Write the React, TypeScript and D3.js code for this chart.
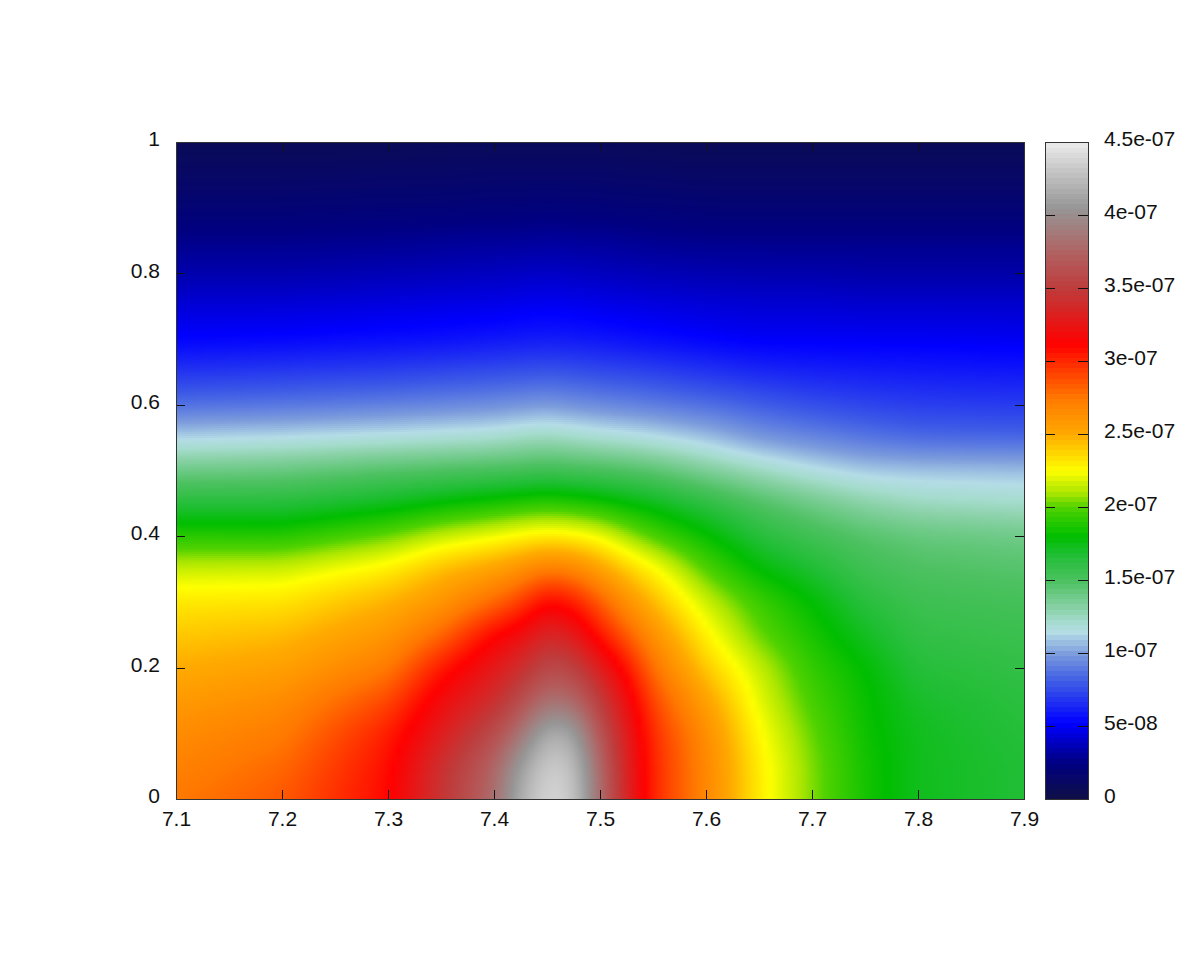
import React, { useEffect, useRef } from "react";
import * as d3 from "d3";

const xGrid = [7.1, 7.2, 7.3, 7.35, 7.4, 7.425, 7.45, 7.475, 7.5, 7.525, 7.55, 7.6, 7.65, 7.7, 7.75, 7.8, 7.9];
const yGrid = [0, 0.05, 0.1, 0.15, 0.2, 0.25, 0.3, 0.35, 0.4, 0.45, 0.5, 0.55, 0.6, 0.65, 0.7, 0.75, 0.8, 0.85, 0.9, 0.95, 1];
// Values in units of 1e-8, one row per x in xGrid, bottom (y=0) to top (y=1)
const valuesByColumn = [
  [27.5, 27, 26.5, 25.8, 25, 24.1, 23.2, 21.6, 19, 16.5, 14, 11.2, 8.6, 6.8, 5.2, 4.4, 3.4, 2.7, 1.9, 1.3, 0.7],
  [28.5, 28, 27.3, 26.5, 25.5, 24.5, 23.3, 21.7, 18.9, 16.5, 14.2, 11.4, 8.8, 7, 5.3, 4.4, 3.4, 2.7, 1.9, 1.3, 0.7],
  [31, 30.8, 30.3, 29, 27.3, 26, 24.8, 23, 20.3, 17.3, 14.8, 11.7, 9.1, 7.2, 5.5, 4.6, 3.6, 2.8, 2, 1.4, 0.7],
  [34.5, 34.2, 33, 32, 30.5, 28, 26, 24.5, 21.5, 18, 15, 11.9, 9.3, 7.4, 5.6, 4.7, 3.7, 2.9, 2, 1.4, 0.8],
  [38, 37.5, 36, 34, 32.8, 31.2, 28, 25.5, 22.3, 18.6, 15.2, 12.1, 9.5, 7.6, 5.8, 4.8, 3.8, 3, 2.1, 1.5, 0.8],
  [42, 41, 38.5, 36, 34, 32, 29.3, 26.3, 22.8, 18.9, 15.3, 12.4, 9.7, 7.7, 5.9, 4.9, 3.9, 3, 2.1, 1.5, 0.8],
  [44, 43.5, 42, 38.5, 36, 33.8, 31.3, 27.5, 23.1, 19.2, 15.5, 12.6, 9.9, 7.8, 6, 5, 4, 3.1, 2.2, 1.5, 0.8],
  [43.5, 43, 41.5, 38, 35.5, 33, 30.5, 27, 22.9, 18.9, 15.3, 12.3, 9.6, 7.7, 5.9, 4.9, 3.9, 3, 2.1, 1.5, 0.8],
  [38, 37.8, 36.5, 35, 33, 30.5, 28.5, 25.5, 22.3, 18.5, 15.2, 12, 9.4, 7.5, 5.8, 4.8, 3.8, 3, 2.1, 1.5, 0.8],
  [33.5, 33.3, 33, 32.2, 30.8, 28.5, 26.3, 24, 21, 18, 14.9, 11.8, 9.2, 7.4, 5.6, 4.7, 3.7, 2.9, 2, 1.4, 0.8],
  [30, 30, 29.8, 29, 27.7, 26.3, 24.5, 22.8, 19.8, 17.5, 14.6, 11.5, 9, 7.2, 5.5, 4.6, 3.6, 2.8, 2, 1.4, 0.7],
  [26.8, 26.8, 26.5, 25.5, 24, 22.8, 21.6, 19.9, 18.2, 16.3, 13.5, 10.8, 8.6, 6.8, 5.2, 4.4, 3.5, 2.7, 1.9, 1.3, 0.7],
  [23, 23, 22.6, 22, 21.5, 20.2, 19.5, 17.9, 16.5, 15, 12.5, 9.8, 8.1, 6.4, 5, 4.3, 3.4, 2.7, 1.9, 1.3, 0.7],
  [20.5, 20.5, 20.2, 19.7, 19.2, 18.6, 18, 16.8, 15.5, 14, 11.6, 9.3, 7.6, 6.2, 5, 4.3, 3.4, 2.7, 1.9, 1.3, 0.7],
  [18.5, 18.5, 18.3, 18.2, 18, 17.2, 16.4, 15.5, 14.8, 13.1, 11, 8.8, 7.3, 6.1, 5, 4.2, 3.3, 2.7, 1.9, 1.3, 0.7],
  [17.3, 17.3, 17.3, 17, 16.5, 16, 15.6, 15, 14.3, 12.5, 10.9, 8.4, 7.1, 6, 5, 4.2, 3.3, 2.7, 1.9, 1.3, 0.7],
  [16.7, 16.7, 16.5, 16.3, 16, 15.7, 15.3, 14.7, 14, 12.2, 10.8, 8.3, 7, 5.9, 4.9, 4.2, 3.3, 2.7, 1.9, 1.3, 0.7],
];

const paletteStops = [0, 2.5, 5.2, 8, 10, 11.4, 12.2, 13, 15, 16.8, 18, 20, 21, 22.5, 25, 27.5, 31.2, 35, 37, 40.5, 45];
const paletteColors = [
  "#0f0f46", "#000082", "#0000ff", "#3c5ae6", "#7c9cdc", "#b4dce6", "#a5dccd", "#8cd2aa", "#4cc160", "#1ebe32", "#00be00", "#50d200",
  "#aae600", "#ffff00", "#ffaa00", "#ff7800", "#ff0000", "#be3c3c", "#b45a5a", "#969696", "#ebebeb",
];
const xTicks = [7.1, 7.2, 7.3, 7.4, 7.5, 7.6, 7.7, 7.8, 7.9];
const yTicks = [0, 0.2, 0.4, 0.6, 0.8, 1];
const cbTicks = [0, 5, 10, 15, 20, 25, 30, 35, 40, 45];
const cbLabels = ["0", "5e-08", "1e-07", "1.5e-07", "2e-07", "2.5e-07", "3e-07", "3.5e-07", "4e-07", "4.5e-07"];

const FONT = "'Liberation Sans', Arial, sans-serif";

export default function App() {
  const ref = useRef<SVGSVGElement>(null);
  useEffect(() => {
    const svg = d3.select(ref.current);
    svg.selectAll("*").remove();
    const left = 176, right = 1024, top = 142, bottom = 799;
    const cbLeft = 1045, cbRight = 1088;
    const x = d3.scaleLinear().domain([7.1, 7.9]).range([left, right]);
    const y = d3.scaleLinear().domain([0, 1]).range([bottom, top]);
    const cbY = d3.scaleLinear().domain([0, 45]).range([bottom, top]);
    const ramp = d3.scaleLinear<string>().domain(paletteStops).range(paletteColors).clamp(true);
    const levels = 128;

    // Field on a fine pixel lattice: piecewise-linear lookup in the read table, softened
    const cell = 2;
    const nx = Math.ceil((right - left) / cell);
    const ny = Math.ceil((bottom - top) / cell);
    const pos = (grid: number[], v: number) => {
      const i = Math.min(grid.length - 2, Math.max(0, d3.bisectRight(grid, v) - 1));
      return [i, (v - grid[i]) / (grid[i + 1] - grid[i])];
    };
    const pad = 18;
    const W = nx + pad * 2, H = ny + pad * 2;
    const field = new Float64Array(W * H);
    for (let j = 0; j < H; j++) {
      const yv = Math.max(0, Math.min(1, y.invert(top + (j - pad + 0.5) * cell)));
      const [jj, ft] = pos(yGrid, yv);
      for (let i = 0; i < W; i++) {
        const xv = Math.max(7.1, Math.min(7.9, x.invert(left + (i - pad + 0.5) * cell)));
        const [ii, fs] = pos(xGrid, xv);
        const a = valuesByColumn[ii][jj], b = valuesByColumn[ii + 1][jj];
        const c = valuesByColumn[ii][jj + 1], d = valuesByColumn[ii + 1][jj + 1];
        field[j * W + i] = (a * (1 - fs) + b * fs) * (1 - ft) + (c * (1 - fs) + d * fs) * ft;
      }
    }
    d3.blur2({ data: field, width: W, height: H }, 5);

    // One strip per lattice row, its colour varying along x through a gradient
    const defs = svg.append("defs");
    const stride = 3;
    const rows = d3.range(ny);
    const samples = d3.range(0, nx + stride, stride).map((i) => Math.min(i, nx - 1));
    const gradients = defs.selectAll("linearGradient").data(rows).join("linearGradient")
      .attr("id", (j) => `heat-row-${j}`)
      .attr("gradientUnits", "userSpaceOnUse")
      .attr("x1", left).attr("x2", right).attr("y1", 0).attr("y2", 0);
    gradients.selectAll("stop")
      .data((j) => samples.map((i) => ({ i, v: field[(j + pad) * W + i + pad] })))
      .join("stop")
      .attr("offset", (d) => (d.i * cell + cell / 2) / (right - left))
      .attr("stop-color", (d) => ramp(d.v));
    svg.append("g").attr("shape-rendering", "crispEdges")
      .selectAll("rect").data(rows).join("rect")
      .attr("x", left).attr("width", right - left)
      .attr("y", (j) => top + j * cell)
      .attr("height", (j) => Math.min(cell, bottom - (top + j * cell)))
      .attr("fill", (j) => `url(#heat-row-${j})`);

    // Colour bar
    const bar = svg.append("g").attr("shape-rendering", "crispEdges");
    const steps = d3.range(levels);
    bar.selectAll("rect").data(steps).join("rect")
      .attr("x", cbLeft).attr("width", cbRight - cbLeft)
      .attr("y", (d) => cbY(((d + 1) / levels) * 45))
      .attr("height", (d) => cbY((d / levels) * 45) - cbY(((d + 1) / levels) * 45) + 0.5)
      .attr("fill", (d) => ramp(((d + 0.5) / levels) * 45));

    const style = (g: any) => {
      g.attr("font-family", FONT).attr("font-size", 21);
      g.selectAll("text").attr("fill", "#111");
      g.selectAll("line").attr("stroke", "#111").attr("stroke-width", 1).attr("shape-rendering", "crispEdges");
      g.select(".domain").remove();
    };

    svg.append("g").attr("transform", `translate(0,${bottom})`)
      .call(d3.axisBottom(x).tickValues(xTicks).tickFormat(d3.format(".1f") as any).tickSize(-9).tickPadding(12))
      .call(style);
    svg.append("g").attr("transform", `translate(0,${top})`)
      .call(d3.axisTop(x).tickValues(xTicks).tickFormat(() => "").tickSize(-9))
      .call(style);
    svg.append("g").attr("transform", `translate(${left},0)`)
      .call(d3.axisLeft(y).tickValues(yTicks).tickFormat((d: any) => (d === 0 || d === 1 ? String(d) : d3.format(".1f")(d))).tickSize(-9).tickPadding(16))
      .call(style)
      .call((g: any) => g.selectAll("text").attr("y", -3));
    svg.append("g").attr("transform", `translate(${right},0)`)
      .call(d3.axisRight(y).tickValues(yTicks).tickFormat(() => "").tickSize(-9))
      .call(style);
    svg.append("g").attr("transform", `translate(${cbRight},0)`)
      .call(d3.axisRight(cbY).tickValues(cbTicks).tickFormat((_: any, i: number) => cbLabels[i]).tickSize(-10).tickPadding(16))
      .call(style)
      .call((g: any) => g.selectAll("text").attr("y", -3));
    svg.append("g").attr("transform", `translate(${cbLeft},0)`)
      .call(d3.axisLeft(cbY).tickValues(cbTicks).tickFormat(() => "").tickSize(-10))
      .call(style);

    svg.append("rect").attr("x", left).attr("y", top).attr("width", right - left).attr("height", bottom - top)
      .attr("fill", "none").attr("stroke", "#333").attr("shape-rendering", "crispEdges");
    svg.append("rect").attr("x", cbLeft).attr("y", top).attr("width", cbRight - cbLeft).attr("height", bottom - top)
      .attr("fill", "none").attr("stroke", "#333").attr("shape-rendering", "crispEdges");
  }, []);
  return (
    <svg ref={ref} width={1200} height={960} style={{ position: "absolute", left: 0, top: 0, background: "#fff" }} />
  );
}
